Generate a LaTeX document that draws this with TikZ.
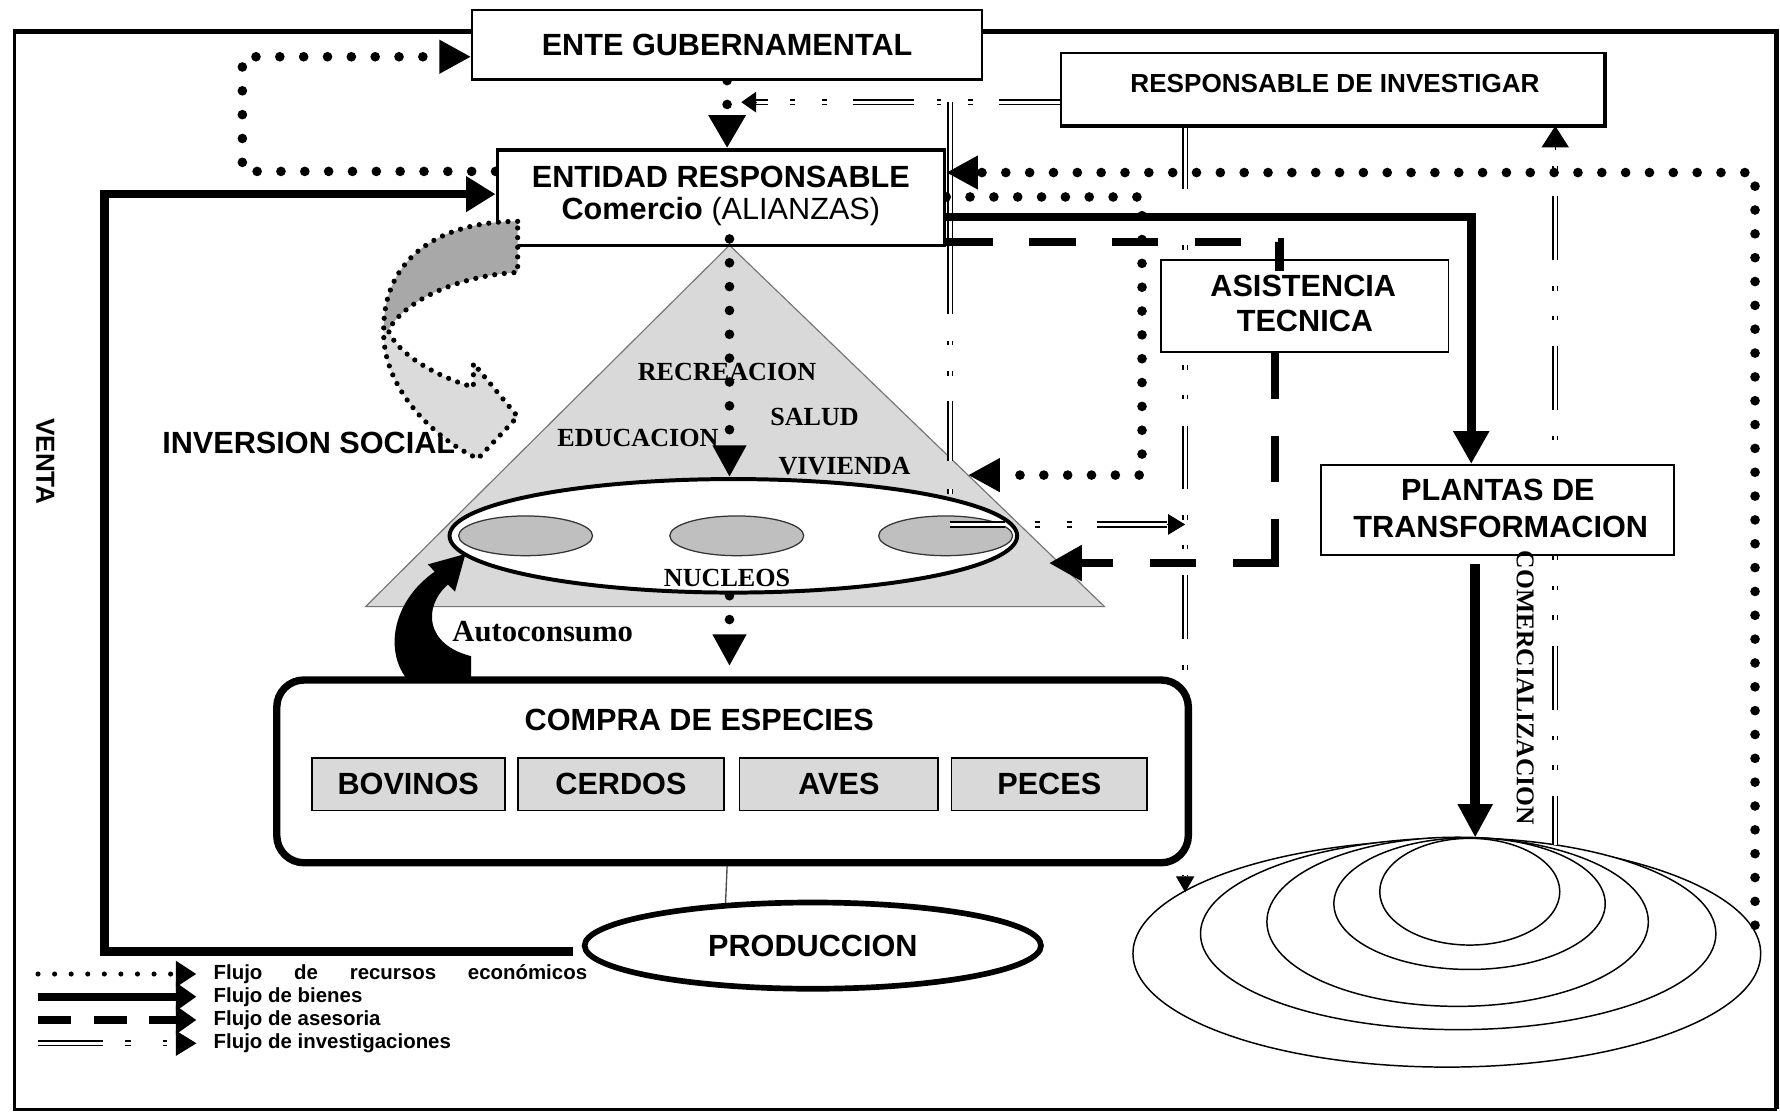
\documentclass[tikz,border=0pt]{standalone}
\usepackage{fontspec}
\setmainfont{Liberation Serif}
\setsansfont{Liberation Sans}
\usetikzlibrary{arrows.meta,shapes.geometric,calc}
\definecolor{triF}{gray}{0.85}
\definecolor{nucF}{gray}{0.75}
\definecolor{spF}{gray}{0.85}
\definecolor{arrD}{gray}{0.66}
\definecolor{arrL}{gray}{0.86}
\pgfdeclarelayer{back}
\pgfdeclarelayer{mid}
\pgfdeclarelayer{front}
\pgfsetlayers{back,mid,main,front}
\begin{document}
\begin{tikzpicture}[x=1pt,y=-1pt,
  sbf/.style={font=\sffamily\bfseries\fontsize{27}{31}\selectfont, inner sep=0pt},
  serb/.style={font=\rmfamily\bfseries\fontsize{23}{26}\selectfont, inner sep=0pt},
  legt/.style={font=\sffamily\bfseries\fontsize{18}{20}\selectfont, anchor=west, inner sep=0pt},
  boxn/.style={draw, fill=white, inner sep=0pt},
  elli/.style={ellipse, draw, inner sep=0pt},
  eco/.style={line width=8.5pt, line cap=round, dash pattern=on 0pt off 21pt},
  bien/.style={line width=7.5pt},
  ases/.style={line width=7.5pt, dash pattern=on 41pt off 32pt},
  invline/.style={double, line width=1.6pt, double distance=2.4pt},
  invpat/.style={dash pattern=on 56pt off 23pt on 4pt off 22pt on 4pt off 23pt},
  bigtip/.style={-{Triangle[length=28pt,width=28pt]}},
  invtip/.style={line width=1pt, -{Triangle[length=15pt,width=18pt]}},
  legtip/.style={-{Triangle[length=18pt,width=22pt]}},
  dotout/.style={draw=black, line width=4.6pt, line cap=round, dash pattern=on 0pt off 8.5pt}
]
\useasboundingbox (0,0) rectangle (1568,979);

% ---------------- back layer: frame, shapes, labels
\begin{pgfonlayer}{back}
\draw[line width=2.5pt] (13,28) -- (13,977) -- (1565,977);
\draw[line width=4.5pt] (11.75,28) -- (1565,28) -- (1565,977);

\coordinate (tA) at (642.6,216);
\coordinate (tB) at (322,534.4);
\coordinate (tC) at (973,534.4);
\filldraw[fill=triF, draw=black!55, line width=1pt] (tA) -- (tB) -- (tC) -- cycle;

\node[elli, line width=3.5pt, fill=white, minimum width=500pt, minimum height=100pt] (nuc) at (646,472) {};
\node[elli, draw=black!80, line width=1.1pt, fill=nucF, minimum width=118pt, minimum height=35pt] (n1) at (463,472) {};
\node[elli, draw=black!80, line width=1.1pt, fill=nucF, minimum width=118pt, minimum height=35pt] (n2) at (649,472) {};
\node[elli, draw=black!80, line width=1.1pt, fill=nucF, minimum width=118pt, minimum height=35pt] (n3) at (833,472) {};

\node[elli, line width=1.3pt, fill=white, minimum width=553pt, minimum height=200pt] (m1) at (1274.5,840) {};
\node[elli, line width=1.3pt, fill=white, minimum width=454pt, minimum height=169pt] (m2) at (1284.5,822.5) {};
\node[elli, line width=1.3pt, fill=white, minimum width=336pt, minimum height=149pt] (m3) at (1284,812) {};
\node[elli, line width=1.3pt, fill=white, minimum width=239pt, minimum height=116pt] (m4) at (1294.5,796) {};
\node[elli, line width=1.3pt, fill=white, minimum width=158.6pt, minimum height=94pt] (m5) at (1294.7,785.5) {};

\node[serb] (rec) at (640.5,328) {RECREACION};
\node[serb] (sal) at (717.5,367) {SALUD};
\node[serb] (edu) at (562,386) {EDUCACION};
\node[serb] (viv) at (744,411) {VIVIENDA};
\node[serb] (nucl) at (640.5,509) {NUCLEOS};
\node[font=\rmfamily\bfseries\fontsize{27}{30}\selectfont, inner sep=0pt] (auto) at (478,556) {Autoconsumo};
\node[sbf] (invs) at (272,390) {INVERSION SOCIAL};
\node[font=\sffamily\bfseries\fontsize{23}{26}\selectfont, rotate=-90, inner sep=0pt] (venta) at (40,406.5) {VENTA};

% legend
\draw[line width=4.5pt, line cap=round, dash pattern=on 0pt off 14.6pt, legtip] (33.5,858) -- (173,858);
\draw[line width=7pt, -{Triangle[length=18pt,width=24pt]}] (33.5,878) -- (173,878);
\draw[line width=7pt, dash pattern=on 29pt off 20pt, -{Triangle[length=18pt,width=24pt]}] (33.5,898.5) -- (173,898.5);
\draw[invline, dash pattern=on 57pt off 20pt on 5pt off 28pt on 4pt off 20pt] (33.5,919) -- (155,919);
\draw[invtip, -{Triangle[length=18pt,width=22pt]}] (155,919) -- (173,919);
\node[legt] (l1) at (188,858) {\makebox[329pt][s]{Flujo de recursos económicos}};
\node[legt] (l2) at (188,878) {Flujo de bienes};
\node[legt] (l3) at (188,898.5) {Flujo de asesoria};
\node[legt] (l4) at (188,919) {Flujo de investigaciones};
\end{pgfonlayer}

% ---------------- main layer: boxes
\node[boxn, line width=2pt, minimum width=449pt, minimum height=61pt, sbf] (ente) at (640.5,39.5) {ENTE GUBERNAMENTAL};

\node[boxn, line width=1.8pt, minimum width=478pt, minimum height=63pt] (ri) at (1174,78.5) {};
\draw[line width=3.5pt] (ri.north east) -- (ri.south east) -- (ri.south west);
\node[font=\sffamily\bfseries\fontsize{23}{26}\selectfont, inner sep=0pt] (rit) at (1176,73.5) {RESPONSABLE DE INVESTIGAR};

\node[boxn, line width=3pt, minimum width=394pt, minimum height=84pt] (ent) at (635,174) {};
\node[sbf] (entt1) at (635,156) {ENTIDAD RESPONSABLE};
\node[sbf] (entt2) at (635,186.5) {Comercio \mdseries(ALIANZAS)};

\node[boxn, line width=1.6pt, minimum width=253pt, minimum height=81pt] (asis) at (1149.5,269.5) {};
\node[sbf] (asist1) at (1148,252) {ASISTENCIA};
\node[sbf] (asist2) at (1149.5,282.5) {TECNICA};

\node[boxn, line width=1.8pt, minimum width=311pt, minimum height=79.4pt] (pl) at (1319.3,449.3) {};
\node[sbf] (plt1) at (1319.5,431.5) {PLANTAS DE};
\node[sbf] (plt2) at (1322,464) {TRANSFORMACION};

\node[boxn, line width=6.5pt, rounded corners=24pt, minimum width=803pt, minimum height=161pt] (compra) at (645.3,679.5) {};
\node[sbf] (comprat) at (616,634.5) {COMPRA DE ESPECIES};
\node[boxn, fill=spF, line width=1.5pt, minimum width=170pt, minimum height=46pt, sbf] (bov) at (359.6,691) {BOVINOS};
\node[boxn, fill=spF, line width=1.5pt, minimum width=182pt, minimum height=46pt, sbf] (cer) at (547,691) {CERDOS};
\node[boxn, fill=spF, line width=1.5pt, minimum width=175pt, minimum height=46pt, sbf] (ave) at (739,691) {AVES};
\node[boxn, fill=spF, line width=1.5pt, minimum width=172.5pt, minimum height=46pt, sbf] (pec) at (924.3,691) {PECES};

\node[elli, line width=5pt, fill=white, minimum width=402pt, minimum height=76pt, sbf] (prod) at (716,833) {PRODUCCION};

% ---------------- mid layer: connectors
\begin{pgfonlayer}{mid}
% investigaciones
\draw[invline, dash pattern=on 54pt off 23pt on 4pt off 24pt on 4pt off 20pt] (ri.west |- 0,90) -- (666,90);
\draw[invtip, -{Triangle[length=13pt,width=18pt]}] (666,90) -- (653,90);
\draw[invline, dash pattern=on 187pt off 23pt on 4pt off 23pt on 4pt off 22pt on 53pt off 25pt on 4pt off 200pt] (837,90) -- (837,462);
\draw[invline, dash pattern=on 48pt off 27pt on 4pt off 24pt on 4pt off 22pt on 80pt off 10pt] (837,462) -- (1028,462);
\draw[invtip] (1028,462) -- (1044,462);
\draw[invline, invpat] (ri.south -| 1044,0) -- (1044,772);
\draw[invtip, -{Triangle[length=14pt,width=16pt]}] (1044,772) -- (1044,786);
\draw[invline, invpat, dash phase=91pt] (1370,132) -- (1370,744);
\draw[invtip, -{Triangle[length=19pt,width=24pt]}] (1370,132) -- (ri.south -| 1370,0);

% recursos economicos
\draw[eco, bigtip] (ent.west |- 0,151) -| (213.5,50) -- (ente.west |- 0,50);
\draw[eco, bigtip] (1546,815) |- (ent.east |- 0,152);
\coordinate (tR1) at ($(tA)!0.636!(tC)$);
\draw[eco, bigtip] (ent.east |- 0,173.5) -| (1006,418.5) -- (tR1);
\draw[eco, -{Triangle[length=29pt,width=31pt]}] (ente.south) -- (ente.south |- ent.north);

% bienes
\draw[bien, -{Triangle[length=26pt,width=30pt]}] ($(prod.west)+(-8,5)$) -| (92,171) -- (ent.west |- 0,171);
\draw[bien, -{Triangle[length=29pt,width=30pt]}] (ent.east |- 0,191) -| (pl.north -| 1296,0);
\draw[line width=8.5pt, -{Triangle[length=29.5pt,width=29pt]}] ($(pl.south -| 1299.5,0)+(0,7)$) -- (m5.north -| 1299.5,0);

% compra -> produccion
\draw[line width=1.2pt, black!70] (compra.south -| nucl) -- (prod.154.8);
\end{pgfonlayer}

% ---------------- front layer
\begin{pgfonlayer}{front}
\draw[eco, bigtip] ($(ent.south -| tA)+(0,-7)$) -- (nuc.north -| tA);
\draw[eco, bigtip, shorten >=9pt] ($(nuc.south -| tA)+(0,1)$) -- (compra.north -| tA);

% asesoria
\draw[ases] (ent.east |- 0,213) -- (1127,213) -- (1127,239);
\draw[ases] (asis.south -| 1123,0) -- (1123,496);
\draw[ases, -{Triangle[length=29pt,width=30pt]}] (1126.75,496) -- (924,496);

% inversion social curved arrow
\fill[arrD]
  (456,195) .. controls (390,195) and (338,225) .. (338,290) -- (342,291)
  .. controls (358,262) and (410,242) .. (456,240) -- cycle;
\fill[arrL]
  (338,290) .. controls (336,340) and (380,385) .. (421,404) -- (456,367) -- (417,320) -- (417,341)
  .. controls (385,332) and (350,312) .. (342,291) -- cycle;
\path[dotout]
  (456,195) .. controls (390,195) and (338,225) .. (338,290)
  .. controls (336,340) and (380,385) .. (421,404) -- (456,367) -- (417,320) -- (417,341)
  .. controls (385,332) and (350,312) .. (342,291)
  .. controls (358,262) and (410,242) .. (456,240) -- cycle;

% autoconsumo arrow
\fill (360,600) .. controls (338,575) and (345,530) .. (383,503.5) -- (376.8,497.2) -- (410,488)
  -- (400.8,521.2) -- (394.5,514.9) .. controls (372,535) and (375,568) .. (415,578) -- (415,600) -- cycle;

\node[font=\rmfamily\bfseries\fontsize{22.5}{25}\selectfont, rotate=-90, inner sep=0pt] (comz) at (1343.5,606) {COMERCIALIZACION};
\end{pgfonlayer}
\end{tikzpicture}
\end{document}
